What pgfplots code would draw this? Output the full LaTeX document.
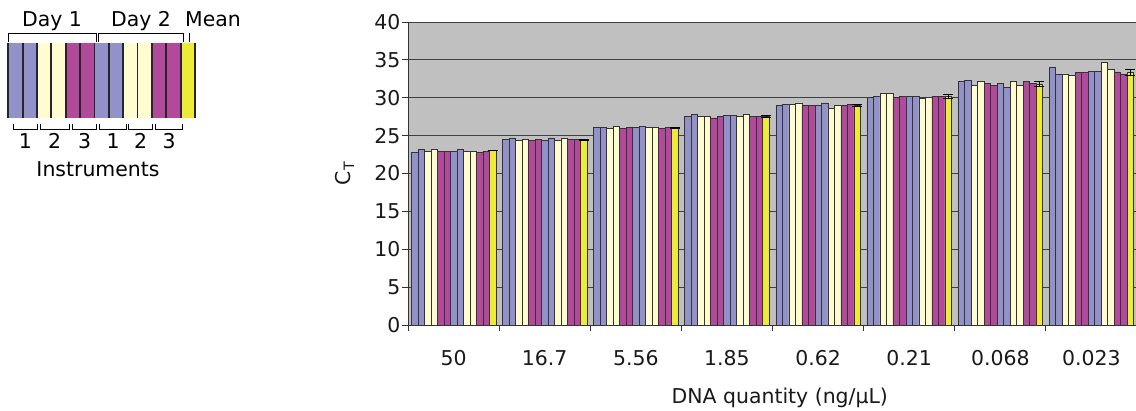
\documentclass[border=0pt]{standalone}
\usepackage{fontspec}
\setmainfont{DejaVu Sans}
\usepackage{pgfplots}
\usepackage{pgfplotstable}
\pgfplotsset{compat=1.18}
\definecolor{cpur}{RGB}{146,146,200}
\definecolor{ccre}{RGB}{255,252,208}
\definecolor{cmag}{RGB}{178,74,156}
\definecolor{cyel}{RGB}{238,234,56}
\definecolor{bgray}{RGB}{192,192,192}
\pgfplotstableread{
x b1 b2 b3 b4 b5 b6 b7 b8 b9 b10 b11 b12 m e
0 22.80 23.15 22.97 23.15 22.97 22.97 22.97 23.15 22.97 22.97 22.80 22.97 23.05 0.05
1 24.51 24.69 24.38 24.51 24.38 24.51 24.38 24.69 24.38 24.69 24.51 24.51 24.45 0.10
2 26.09 26.09 25.92 26.27 25.92 26.09 26.09 26.27 26.09 26.09 25.92 26.09 26.00 0.10
3 27.50 27.85 27.50 27.50 27.33 27.50 27.68 27.68 27.50 27.85 27.50 27.50 27.55 0.10
4 28.96 29.13 29.13 29.31 28.96 28.96 28.96 29.31 28.60 28.96 28.96 29.13 29.00 0.15
5 30.06 30.23 30.54 30.54 30.06 30.23 30.23 30.23 29.88 30.06 30.23 30.23 30.15 0.25
6 32.12 32.30 31.68 32.12 31.86 31.68 31.86 31.37 32.12 31.68 32.12 31.86 31.80 0.30
7 34.06 33.14 33.14 32.96 33.30 33.30 33.44 33.44 34.67 33.75 33.40 33.14 33.35 0.40
}\data
\newcommand{\fs}{\fontsize{20.5}{24}\selectfont}
\begin{document}
\begin{tikzpicture}[x=1bp,y=1bp]
\useasboundingbox (0,0) rectangle (1136,410);
\begin{axis}[
  at={(408bp,85bp)}, anchor=south west,
  scale only axis, width=729bp, height=303bp,
  ybar=0pt, bar width=6.5bp,
  xmin=-0.5, xmax=7.5, ymin=0, ymax=40,
  xtick={0,...,7},
  xticklabels={50,16.7,5.56,1.85,0.62,0.21,0.068,0.023},
  minor xtick={-0.5,0.5,...,7.5},
  ytick={0,5,...,40},
  major x tick style={draw=none},
  tick align=outside, major tick length=6bp, minor tick length=6bp,
  tick style={line width=0.8bp, black!80},
  ymajorgrids, grid style={line width=0.8bp, black!75},
  axis background/.style={fill=bgray},
  axis x line*=bottom, axis y line*=left,
  axis line style={line width=0.8bp, black!80, -},
  /pgf/number format/assume math mode=true,
  every tick label/.append style={font=\fs, text=black!90},
  xticklabel style={anchor=base, yshift=-34bp},
  yticklabel style={anchor=east, xshift=2bp},
  every axis y label/.style={at={(axis description cs:-0.0865,0.5)}, rotate=90, anchor=center},
  every axis x label/.style={at={(axis description cs:0.51,0)}, anchor=base, yshift=-78bp},
  xlabel={DNA quantity (ng/μL)},
  ylabel={C\textsubscript{T}},
  label style={font=\fs, text=black!90},
  every axis plot/.append style={draw=black!80, line width=0.6bp},
]
\addplot[fill=cpur] table[x=x,y=b1]{\data};
\addplot[fill=cpur] table[x=x,y=b2]{\data};
\addplot[fill=ccre] table[x=x,y=b3]{\data};
\addplot[fill=ccre] table[x=x,y=b4]{\data};
\addplot[fill=cmag] table[x=x,y=b5]{\data};
\addplot[fill=cmag] table[x=x,y=b6]{\data};
\addplot[fill=cpur] table[x=x,y=b7]{\data};
\addplot[fill=cpur] table[x=x,y=b8]{\data};
\addplot[fill=ccre] table[x=x,y=b9]{\data};
\addplot[fill=ccre] table[x=x,y=b10]{\data};
\addplot[fill=cmag] table[x=x,y=b11]{\data};
\addplot[fill=cmag] table[x=x,y=b12]{\data};
\addplot[fill=cyel, error bars/.cd, y dir=both, y explicit,
  error bar style={black, line width=0.8bp},
  error mark options={rotate=90, mark size=5bp, black, line width=0.8bp}]
  table[x=x,y=m,y error=e]{\data};
\end{axis}
% legend graphic
\foreach \c [count=\i from 0] in {cpur,cpur,ccre,ccre,cmag,cmag,cpur,cpur,ccre,ccre,cmag,cmag,cyel}{
  \fill[\c] (8.3+\i*14.36,292) rectangle (8.3+\i*14.36+14.36,367);
}
\foreach \i in {0,...,13}{
  \draw[black!85, line width=1.8bp] (8.3+\i*14.36,292) -- (8.3+\i*14.36,367);
}
\draw[black, line width=1bp] (8.3,368) -- (8.3,376.7) -- (96.7,376.7) -- (96.7,368);
\draw[black, line width=1bp] (98.3,368) -- (98.3,376.7) -- (183.3,376.7) -- (183.3,368);
\draw[black, line width=1bp] (189.3,367.7) -- (189.3,377.3);
\node[font=\fs, anchor=base] at (52,383.3) {Day 1};
\node[font=\fs, anchor=base] at (141,383.3) {Day 2};
\node[font=\fs, anchor=base] at (213,383.3) {Mean};
\foreach \a/\b/\n in {13.3/37.3/1,40/69.3/2,72.3/96.7/3,99.3/126.7/1,128.3/152.7/2,155.3/182.7/3}{
  \draw[black, line width=1bp] (\a,286) -- (\a,280.7) -- (\b,280.7) -- (\b,286);
  \node[font=\fs, anchor=base] at ({(\a+\b)/2},261.7) {\n};
}
\node[font=\fs, anchor=base] at (98,233.3) {Instruments};
\end{tikzpicture}
\end{document}
